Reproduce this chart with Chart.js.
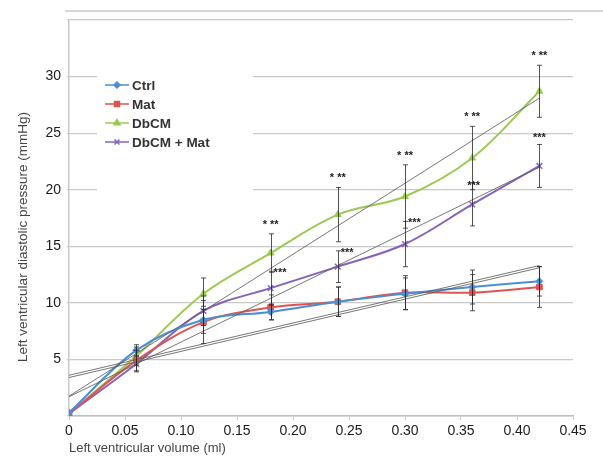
<!DOCTYPE html>
<html>
<head>
<meta charset="utf-8">
<script src="https://cdn.jsdelivr.net/npm/chart.js@4.4.1/dist/chart.umd.min.js"></script>
<style>
  html, body { margin: 0; padding: 0; background: #fff; }
  #wrap { width: 603px; height: 457px; }
</style>
</head>
<body>
<div id="wrap"><canvas id="chart" width="603" height="457"></canvas></div>
<script>
// volumes (ml)
const volumes = [0, 0.06, 0.12, 0.18, 0.24, 0.30, 0.36, 0.42];

// mean pressures (mmHg)
const ctrl = [0.3, 5.8, 8.5, 9.2, 10.1, 10.8, 11.4, 11.9];
const mat = [0.2, 4.9, 8.3, 9.6, 10.1, 10.9, 10.9, 11.4];
const dbcm = [0.2, 5.3, 10.8, 14.4, 17.8, 19.4, 22.8, 28.7];
const dbcmMat = [0.2, 4.6, 9.3, 11.3, 13.2, 15.2, 18.7, 22.1];

// error bars (+/-)
const ctrlErr = [0, 0.5, 1.2, 0.7, 1.3, 1.4, 1.5, 1.3];
const matErr = [0, 0.9, 1.9, 1.1, 1.3, 1.5, 1.6, 1.8];
const dbcmErr = [0, 0.8, 1.4, 1.7, 2.4, 2.8, 2.8, 2.3];
const dbcmMatErr = [0, 0.7, 1.3, 1.5, 1.4, 2.0, 1.9, 1.9];

// linear trendlines, value at first and last volume
const trendX = [0, 0.42];
const ctrlTrend = [3.6, 13.3];
const matTrend = [3.4, 13.1];
const dbcmTrend = [1.75, 28.1];
const dbcmMatTrend = [1.7, 22.0];

// significance marks
const dbcmSig = ['', '', '', '* **', '* **', '* **', '* **', '* **'];
const dbcmMatSig = ['', '', '', '***', '***', '***', '***', '***'];

const xTicks = [0, 0.05, 0.10, 0.15, 0.20, 0.25, 0.30, 0.35, 0.40, 0.45];
const yTicks = [5, 10, 15, 20, 25, 30];

const FONT = "'Liberation Sans', Arial, sans-serif";

function pts(ys, xs) {
  return ys.map((y, i) => ({ x: (xs || volumes)[i], y: y }));
}

const series = [
  { label: 'Ctrl', data: ctrl, err: ctrlErr, color: '#4a8fd4', style: 'rectRot', r: 3.5 },
  { label: 'Mat', data: mat, err: matErr, color: '#dd5452', style: 'rect', r: 4 },
  { label: 'DbCM', data: dbcm, err: dbcmErr, color: '#9cc953', style: 'triangle', r: 4 },
  { label: 'DbCM + Mat', data: dbcmMat, err: dbcmMatErr, color: '#8762bd', style: 'crossRot', r: 4 }
];
const trends = [ctrlTrend, matTrend, dbcmTrend, dbcmMatTrend];

const datasets = [];
trends.forEach(t => {
  datasets.push({
    data: pts(t, trendX),
    borderColor: 'rgba(95,95,95,0.85)',
    borderWidth: 1,
    pointRadius: 0,
    tension: 0
  });
});
series.forEach(s => {
  datasets.push({
    label: s.label,
    data: pts(s.data),
    borderColor: s.color,
    backgroundColor: s.color,
    borderWidth: 2,
    pointStyle: s.style,
    pointRadius: s.r,
    pointBorderWidth: s.style === 'crossRot' ? 1.5 : 1,
    tension: 0.35
  });
});

// error bars + significance labels
const errorBars = {
  id: 'errorBars',
  afterDatasetsDraw(chart) {
    const ctx = chart.ctx;
    const xs = chart.scales.x, ys = chart.scales.y;
    ctx.save();
    ctx.strokeStyle = 'rgba(40,40,40,0.8)';
    ctx.lineWidth = 1;
    series.forEach(s => {
      s.data.forEach((v, i) => {
        if (!s.err[i]) return;
        const px = Math.round(xs.getPixelForValue(volumes[i])) + 0.5;
        const top = ys.getPixelForValue(v + s.err[i]);
        const bot = ys.getPixelForValue(v - s.err[i]);
        ctx.beginPath();
        ctx.moveTo(px, top); ctx.lineTo(px, bot);
        ctx.moveTo(px - 2.5, top); ctx.lineTo(px + 2.5, top);
        ctx.moveTo(px - 2.5, bot); ctx.lineTo(px + 2.5, bot);
        ctx.stroke();
      });
    });
    ctx.fillStyle = '#222';
    ctx.font = 'bold 11px ' + FONT;
    ctx.textBaseline = 'middle';
    dbcmSig.forEach((t, i) => {
      if (!t) return;
      const px = xs.getPixelForValue(volumes[i]);
      const top = ys.getPixelForValue(dbcm[i] + dbcmErr[i]);
      ctx.textAlign = 'center';
      ctx.fillText(t, px, top - 9);
    });
    dbcmMatSig.forEach((t, i) => {
      if (!t) return;
      const px = xs.getPixelForValue(volumes[i]);
      const top = ys.getPixelForValue(dbcmMat[i] + dbcmMatErr[i]);
      if (i === volumes.length - 1) {
        ctx.textAlign = 'center';
        ctx.fillText(t, px, top - 6);
      } else if (i === volumes.length - 2) {
        ctx.textAlign = 'left';
        ctx.fillText(t, px - 5, top + 3);
      } else {
        ctx.textAlign = 'left';
        ctx.fillText(t, px + 3, top + 2);
      }
    });
    ctx.restore();
  }
};

// legend box inside the plot, y title, top frame line
const decor = {
  id: 'decor',
  afterDraw(chart) {
    const ctx = chart.ctx;
    const a = chart.chartArea;
    ctx.save();
    ctx.fillStyle = '#fff';
    ctx.fillRect(a.left + 28, a.top + 48, 156, 128);
    ctx.font = 'bold 13.5px ' + FONT;
    ctx.textAlign = 'left';
    ctx.textBaseline = 'middle';
    series.forEach((s, i) => {
      const y = a.top + 65 + i * 19;
      const x0 = a.left + 36;
      ctx.strokeStyle = s.color;
      ctx.lineWidth = 1.5;
      ctx.beginPath();
      ctx.moveTo(x0, y); ctx.lineTo(x0 + 24, y);
      ctx.stroke();
      ctx.fillStyle = s.color;
      Chart.helpers.drawPoint(ctx, {
        pointStyle: s.style, radius: s.r - 0.5, rotation: 0, borderWidth: 1
      }, x0 + 12, y);
      ctx.fillStyle = '#333';
      ctx.fillText(s.label, x0 + 27, y + 1);
    });
    // y axis title
    ctx.fillStyle = '#444';
    ctx.font = '13.5px ' + FONT;
    ctx.translate(23, 237);
    ctx.rotate(-Math.PI / 2);
    ctx.textAlign = 'center';
    ctx.fillText('Left ventricular diastolic pressure (mmHg)', 0, 0);
    ctx.restore();
    // frame line at the top
    ctx.save();
    ctx.strokeStyle = '#c8c8c8';
    ctx.lineWidth = 1.5;
    ctx.beginPath();
    ctx.moveTo(a.left - 4, a.top - 9);
    ctx.lineTo(chart.width, a.top - 9);
    ctx.stroke();
    ctx.restore();
  }
};

new Chart(document.getElementById('chart'), {
  type: 'line',
  data: { datasets: datasets },
  options: {
    responsive: false,
    animation: false,
    layout: { padding: { left: 0, right: 30, top: 20, bottom: 0 } },
    plugins: { legend: { display: false }, tooltip: { enabled: false } },
    scales: {
      x: {
        type: 'linear',
        min: 0, max: 0.45,
        afterBuildTicks: s => { s.ticks = xTicks.map(v => ({ value: v })); },
        afterFit: s => { s.height = 41; },
        grid: { display: true, drawOnChartArea: false, drawTicks: true, tickLength: 4, color: '#c8c8c8' },
        border: { color: '#c0c0c0', width: 1.5 },
        ticks: {
          color: '#1a1a1a',
          font: { family: FONT, size: 14 },
          padding: 3,
          callback: v => v === 0 ? '0' : v.toFixed(2)
        },
        title: {
          display: true,
          text: 'Left ventricular volume (ml)',
          align: 'start',
          color: '#444',
          font: { family: FONT, size: 13 },
          padding: { top: 0, bottom: 1 }
        }
      },
      y: {
        min: 0, max: 35,
        afterBuildTicks: s => { s.ticks = [0].concat(yTicks, [35]).map(v => ({ value: v })); },
        afterFit: s => { s.width = 69; },
        grid: { color: '#c8c8c8', lineWidth: 1.2, drawTicks: true, tickLength: 2 },
        border: { color: '#c8c8c8', width: 1.5 },
        ticks: {
          color: '#1a1a1a',
          font: { family: FONT, size: 14 },
          padding: 6,
          callback: v => yTicks.includes(v) ? String(v) : ''
        }
      }
    }
  },
  plugins: [errorBars, decor]
});
</script>
</body>
</html>
